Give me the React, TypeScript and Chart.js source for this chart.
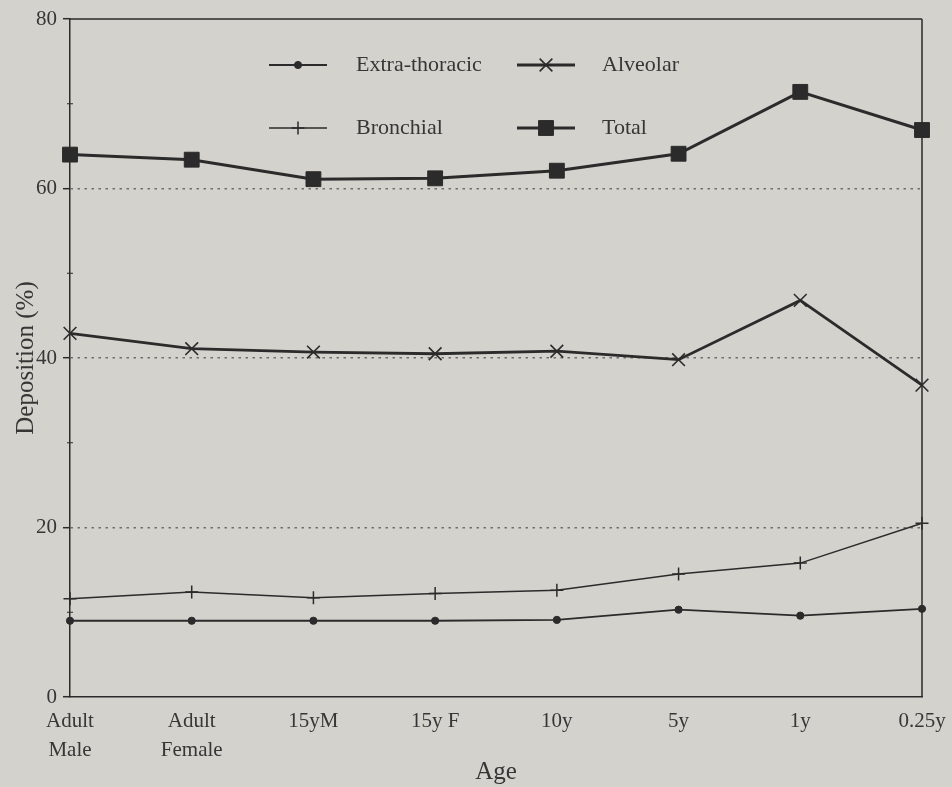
import React, { useEffect, useRef } from "react";
import { Chart, registerables } from "chart.js";
import { drawPoint } from "chart.js/helpers";

Chart.register(...registerables);

// Age groups along the x axis (multi-line labels are arrays)
const AGE_GROUPS: (string | string[])[] = [
  ["Adult", "Male"],
  ["Adult", "Female"],
  "15yM",
  "15y F",
  "10y",
  "5y",
  "1y",
  "0.25y",
];

// Regional deposition, % of inhaled particles
const EXTRA_THORACIC = [9.0, 9.0, 9.0, 9.0, 9.1, 10.3, 9.6, 10.4];
const BRONCHIAL = [11.6, 12.4, 11.7, 12.2, 12.6, 14.5, 15.8, 20.5];
const ALVEOLAR = [42.9, 41.1, 40.7, 40.5, 40.8, 39.8, 46.8, 36.8];
const TOTAL = [64.0, 63.4, 61.1, 61.2, 62.1, 64.1, 71.4, 66.9];

const Y_MIN = 0;
const Y_MAX = 80;
const Y_STEP = 20;
const Y_MINOR_TICKS = [10, 30, 50, 70];

const PAPER = "#d4d2cd";
const INK = "#2b2b2b";
const TEXT = "#363636";
const SERIF = "'Liberation Serif', 'DejaVu Serif', serif";

// Paper-coloured background behind everything
const paperPlugin = {
  id: "paper",
  beforeDraw(chart: any) {
    const { ctx, width, height } = chart;
    ctx.save();
    ctx.fillStyle = PAPER;
    ctx.fillRect(0, 0, width, height);
    ctx.restore();
  },
};

// Closes the plot box (top and right edges) and adds the small minor ticks on the y axis
const framePlugin = {
  id: "frame",
  beforeDatasetsDraw(chart: any) {
    const { ctx, chartArea } = chart;
    const { left, right, top, bottom } = chartArea;
    const y = chart.scales.y;
    ctx.save();
    ctx.strokeStyle = INK;
    ctx.lineWidth = 1.5;
    ctx.beginPath();
    ctx.moveTo(left, top);
    ctx.lineTo(right, top);
    ctx.moveTo(right, top);
    ctx.lineTo(right, bottom);
    ctx.stroke();
    ctx.lineWidth = 1.2;
    ctx.beginPath();
    for (const v of Y_MINOR_TICKS) {
      const py = y.getPixelForValue(v);
      ctx.moveTo(left - 3, py);
      ctx.lineTo(left + 3, py);
    }
    ctx.stroke();
    ctx.restore();
  },
};

// Two-column legend placed inside the plot box
const LEGEND_SLOTS = [
  { lineX: 269, textX: 356, y: 65 },
  { lineX: 269, textX: 356, y: 128 },
  { lineX: 517, textX: 602, y: 65 },
  { lineX: 517, textX: 602, y: 128 },
];
const insetLegendPlugin = {
  id: "insetLegend",
  afterDraw(chart: any) {
    const { ctx } = chart;
    ctx.save();
    chart.data.datasets.forEach((ds: any, i: number) => {
      const slot = LEGEND_SLOTS[i];
      const x0 = slot.lineX;
      const x1 = x0 + 58;
      ctx.strokeStyle = ds.borderColor;
      ctx.fillStyle = ds.pointBackgroundColor;
      ctx.lineWidth = ds.borderWidth;
      ctx.setLineDash([]);
      ctx.beginPath();
      ctx.moveTo(x0, slot.y);
      ctx.lineTo(x1, slot.y);
      ctx.stroke();
      ctx.lineWidth = ds.pointBorderWidth;
      drawPoint(
        ctx,
        {
          pointStyle: ds.pointStyle,
          rotation: 0,
          radius: ds.pointRadius,
          borderWidth: ds.pointBorderWidth,
        },
        (x0 + x1) / 2,
        slot.y
      );
      ctx.fillStyle = TEXT;
      ctx.font = `22px ${SERIF}`;
      ctx.textAlign = "left";
      ctx.textBaseline = "middle";
      ctx.fillText(ds.label, slot.textX, slot.y);
    });
    ctx.restore();
  },
};

function makeSeries(
  label: string,
  data: number[],
  lineWidth: number,
  pointStyle: string,
  radius: number,
  pointBorderWidth: number
) {
  return {
    label,
    data,
    borderColor: INK,
    backgroundColor: INK,
    pointBackgroundColor: INK,
    pointBorderColor: INK,
    borderWidth: lineWidth,
    pointStyle,
    pointRadius: radius,
    pointHoverRadius: radius,
    pointBorderWidth,
    tension: 0,
    fill: false,
    clip: false as any,
  };
}

export default function App() {
  const canvasRef = useRef<HTMLCanvasElement | null>(null);

  useEffect(() => {
    const canvas = canvasRef.current;
    if (!canvas) return;
    const chart = new Chart(canvas, {
      type: "line",
      data: {
        labels: AGE_GROUPS as any,
        datasets: [
          makeSeries("Extra-thoracic", EXTRA_THORACIC, 1.8, "circle", 3.6, 1),
          makeSeries("Bronchial", BRONCHIAL, 1.5, "cross", 6.5, 1.5),
          makeSeries("Alveolar", ALVEOLAR, 2.8, "crossRot", 9, 1.6),
          makeSeries("Total", TOTAL, 3, "rect", 10.5, 1),
        ] as any,
      },
      options: {
        animation: false,
        responsive: false,
        maintainAspectRatio: false,
        events: [],
        layout: { padding: { top: 19, right: 30, left: 0, bottom: 0 } },
        plugins: {
          legend: { display: false },
          tooltip: { enabled: false },
          title: { display: false },
        },
        scales: {
          x: {
            type: "category",
            offset: false,
            grid: { display: false, drawTicks: false },
            border: { display: true, color: INK, width: 1.5 },
            ticks: {
              color: TEXT,
              font: { family: SERIF, size: 21, lineHeight: 1.38 },
              padding: 10,
              maxRotation: 0,
              minRotation: 0,
              autoSkip: false,
            },
            title: {
              display: true,
              text: "Age",
              color: TEXT,
              font: { family: SERIF, size: 25, lineHeight: 1.2 },
              padding: { top: 0, bottom: 0 },
            },
            afterFit(scale: any) {
              scale.height = 90;
              scale.paddingLeft = 0;
              scale.paddingRight = 0;
            },
          },
          y: {
            min: Y_MIN,
            max: Y_MAX,
            grid: {
              color: (ctx: any) =>
                ctx.tick && (ctx.tick.value === Y_MIN || ctx.tick.value === Y_MAX)
                  ? "rgba(0,0,0,0)"
                  : "#6e6e6c",
              lineWidth: 1.4,
              drawTicks: true,
              tickLength: 7,
              tickColor: INK,
              tickWidth: 1.5,
              tickBorderDash: [],
            },
            border: { display: true, color: INK, width: 1.5, dash: [2.5, 4.5] },
            ticks: {
              stepSize: Y_STEP,
              color: TEXT,
              font: { family: SERIF, size: 21 },
              padding: 6,
            },
            title: {
              display: true,
              text: "Deposition (%)",
              color: TEXT,
              font: { family: SERIF, size: 25, lineHeight: 1.2 },
              padding: { top: 11, bottom: 0 },
            },
            afterFit(scale: any) {
              scale.width = 70;
              scale.paddingTop = 0;
              scale.paddingBottom = 0;
            },
          },
        },
      } as any,
      plugins: [paperPlugin, framePlugin, insetLegendPlugin],
    });
    return () => chart.destroy();
  }, []);

  return (
    <div
      style={{
        position: "absolute",
        left: 0,
        top: 0,
        width: 952,
        height: 787,
        background: PAPER,
      }}
    >
      <canvas ref={canvasRef} width={952} height={787} style={{ display: "block" }} />
    </div>
  );
}
